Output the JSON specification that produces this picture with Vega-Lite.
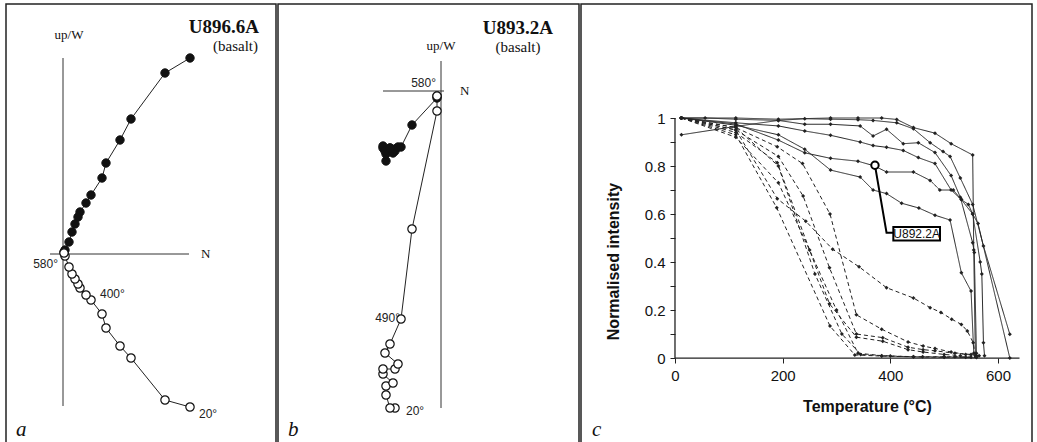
{
  "$schema": "https://vega.github.io/schema/vega-lite/v6.json",
  "padding": {"left": 5, "top": 3, "right": 0, "bottom": 0},
  "spacing": 0,
  "background": "white",
  "config": {"view": {"stroke": "#222", "strokeWidth": 1.5}, "concat": {"spacing": 0}},
  "datasets": {
    "zijA": [
      {"proj": "horizontal", "step": 1, "temp": 20, "x": 127, "y": 196},
      {"proj": "horizontal", "step": 2, "x": 102, "y": 181},
      {"proj": "horizontal", "step": 3, "x": 68, "y": 135},
      {"proj": "horizontal", "step": 4, "x": 57, "y": 114},
      {"proj": "horizontal", "step": 5, "x": 43, "y": 91},
      {"proj": "horizontal", "step": 6, "x": 39, "y": 76},
      {"proj": "horizontal", "step": 7, "x": 28, "y": 59},
      {"proj": "horizontal", "step": 8, "x": 23, "y": 51},
      {"proj": "horizontal", "step": 9, "x": 17, "y": 42},
      {"proj": "horizontal", "step": 10, "x": 15, "y": 37},
      {"proj": "horizontal", "step": 11, "x": 12, "y": 30},
      {"proj": "horizontal", "step": 12, "x": 9, "y": 22},
      {"proj": "horizontal", "step": 13, "x": 6, "y": 12},
      {"proj": "horizontal", "step": 14, "x": 2, "y": 4},
      {"proj": "horizontal", "step": 15, "x": 1, "y": 2},
      {"proj": "vertical", "step": 1, "x": 127, "y": -153},
      {"proj": "vertical", "step": 2, "x": 102, "y": -146},
      {"proj": "vertical", "step": 3, "x": 68, "y": -104},
      {"proj": "vertical", "step": 4, "x": 57, "y": -92},
      {"proj": "vertical", "step": 5, "x": 43, "y": -74},
      {"proj": "vertical", "step": 6, "x": 39, "y": -60},
      {"proj": "vertical", "step": 7, "x": 28, "y": -46},
      {"proj": "vertical", "step": 8, "x": 23, "y": -41},
      {"proj": "vertical", "step": 9, "x": 17, "y": -34},
      {"proj": "vertical", "step": 10, "x": 15, "y": -30},
      {"proj": "vertical", "step": 11, "x": 12, "y": -25},
      {"proj": "vertical", "step": 12, "x": 9, "y": -20},
      {"proj": "vertical", "step": 13, "x": 6, "y": -13},
      {"proj": "vertical", "step": 14, "x": 2, "y": -2},
      {"proj": "vertical", "step": 15, "x": 1, "y": 1}
    ],
    "zijB": [
      {"proj": "horizontal", "step": 1, "x": -46, "y": -60},
      {"proj": "horizontal", "step": 2, "x": -51, "y": -57},
      {"proj": "horizontal", "step": 3, "x": -55, "y": -70},
      {"proj": "horizontal", "step": 4, "x": -55, "y": -63},
      {"proj": "horizontal", "step": 5, "x": -48, "y": -62},
      {"proj": "horizontal", "step": 6, "x": -58, "y": -57},
      {"proj": "horizontal", "step": 7, "x": -58, "y": -55},
      {"proj": "horizontal", "step": 8, "x": -46, "y": -58},
      {"proj": "horizontal", "step": 9, "x": -43, "y": -56},
      {"proj": "horizontal", "step": 10, "x": -56, "y": -60},
      {"proj": "horizontal", "step": 11, "x": -51, "y": -57},
      {"proj": "horizontal", "step": 12, "x": -40, "y": -56},
      {"proj": "horizontal", "step": 13, "x": -29, "y": -34},
      {"proj": "horizontal", "step": 14, "x": -4, "y": -7},
      {"proj": "horizontal", "step": 15, "x": -4, "y": -5},
      {"proj": "vertical", "step": 1, "x": -46, "y": -317},
      {"proj": "vertical", "step": 2, "x": -51, "y": -317},
      {"proj": "vertical", "step": 3, "x": -55, "y": -304},
      {"proj": "vertical", "step": 4, "x": -55, "y": -295},
      {"proj": "vertical", "step": 5, "x": -48, "y": -292},
      {"proj": "vertical", "step": 6, "x": -58, "y": -283},
      {"proj": "vertical", "step": 7, "x": -58, "y": -278},
      {"proj": "vertical", "step": 8, "x": -46, "y": -278},
      {"proj": "vertical", "step": 9, "x": -43, "y": -273},
      {"proj": "vertical", "step": 10, "x": -56, "y": -262},
      {"proj": "vertical", "step": 11, "x": -51, "y": -253},
      {"proj": "vertical", "step": 12, "x": -40, "y": -228},
      {"proj": "vertical", "step": 13, "x": -29, "y": -138},
      {"proj": "vertical", "step": 14, "x": -4, "y": -20},
      {"proj": "vertical", "step": 15, "x": -4, "y": -5}
    ],
    "curves": [
      {"id": "S1", "kind": "solid", "t": 12, "v": 1.0},
      {"id": "S1", "kind": "solid", "t": 113, "v": 1.0},
      {"id": "S1", "kind": "solid", "t": 192, "v": 0.995},
      {"id": "S1", "kind": "solid", "t": 289, "v": 1.0},
      {"id": "S1", "kind": "solid", "t": 340, "v": 1.0},
      {"id": "S1", "kind": "solid", "t": 384, "v": 1.0},
      {"id": "S1", "kind": "solid", "t": 412, "v": 0.994},
      {"id": "S1", "kind": "solid", "t": 443, "v": 0.96},
      {"id": "S1", "kind": "solid", "t": 483, "v": 0.937},
      {"id": "S1", "kind": "solid", "t": 513, "v": 0.893},
      {"id": "S1", "kind": "solid", "t": 553, "v": 0.846},
      {"id": "S1", "kind": "solid", "t": 555, "v": 0.45},
      {"id": "S1", "kind": "solid", "t": 558, "v": 0.01},
      {"id": "S2", "kind": "solid", "t": 12, "v": 1.0},
      {"id": "S2", "kind": "solid", "t": 56, "v": 1.0},
      {"id": "S2", "kind": "solid", "t": 113, "v": 0.995},
      {"id": "S2", "kind": "solid", "t": 192, "v": 0.99},
      {"id": "S2", "kind": "solid", "t": 241, "v": 0.997},
      {"id": "S2", "kind": "solid", "t": 289, "v": 0.995},
      {"id": "S2", "kind": "solid", "t": 340, "v": 0.993},
      {"id": "S2", "kind": "solid", "t": 368, "v": 0.99},
      {"id": "S2", "kind": "solid", "t": 412, "v": 0.98},
      {"id": "S2", "kind": "solid", "t": 443, "v": 0.955},
      {"id": "S2", "kind": "solid", "t": 474, "v": 0.897},
      {"id": "S2", "kind": "solid", "t": 498, "v": 0.86},
      {"id": "S2", "kind": "solid", "t": 511, "v": 0.84},
      {"id": "S2", "kind": "solid", "t": 530, "v": 0.75},
      {"id": "S2", "kind": "solid", "t": 553, "v": 0.64},
      {"id": "S2", "kind": "solid", "t": 573, "v": 0.467},
      {"id": "S2", "kind": "solid", "t": 622, "v": 0.099},
      {"id": "S3", "kind": "solid", "t": 12, "v": 0.93},
      {"id": "S3", "kind": "solid", "t": 113, "v": 0.965},
      {"id": "S3", "kind": "solid", "t": 192, "v": 0.99},
      {"id": "S3", "kind": "solid", "t": 241, "v": 0.974},
      {"id": "S3", "kind": "solid", "t": 289, "v": 0.974},
      {"id": "S3", "kind": "solid", "t": 344, "v": 0.967},
      {"id": "S3", "kind": "solid", "t": 368, "v": 0.925},
      {"id": "S3", "kind": "solid", "t": 393, "v": 0.953},
      {"id": "S3", "kind": "solid", "t": 424, "v": 0.893},
      {"id": "S3", "kind": "solid", "t": 452, "v": 0.897},
      {"id": "S3", "kind": "solid", "t": 483, "v": 0.856},
      {"id": "S3", "kind": "solid", "t": 513, "v": 0.76},
      {"id": "S3", "kind": "solid", "t": 530, "v": 0.67},
      {"id": "S3", "kind": "solid", "t": 553, "v": 0.48},
      {"id": "S3", "kind": "solid", "t": 556, "v": 0.44},
      {"id": "S3", "kind": "solid", "t": 560, "v": 0.02},
      {"id": "S4", "kind": "solid", "t": 12, "v": 1.0},
      {"id": "S4", "kind": "solid", "t": 113, "v": 0.98},
      {"id": "S4", "kind": "solid", "t": 192, "v": 0.967},
      {"id": "S4", "kind": "solid", "t": 241, "v": 0.946},
      {"id": "S4", "kind": "solid", "t": 289, "v": 0.928},
      {"id": "S4", "kind": "solid", "t": 344, "v": 0.9},
      {"id": "S4", "kind": "solid", "t": 368, "v": 0.885},
      {"id": "S4", "kind": "solid", "t": 393, "v": 0.878},
      {"id": "S4", "kind": "solid", "t": 424, "v": 0.865},
      {"id": "S4", "kind": "solid", "t": 452, "v": 0.835},
      {"id": "S4", "kind": "solid", "t": 483, "v": 0.81},
      {"id": "S4", "kind": "solid", "t": 513, "v": 0.7},
      {"id": "S4", "kind": "solid", "t": 532, "v": 0.66},
      {"id": "S4", "kind": "solid", "t": 553, "v": 0.6},
      {"id": "S4", "kind": "solid", "t": 563, "v": 0.56},
      {"id": "S4", "kind": "solid", "t": 622, "v": 0.0},
      {"id": "S5", "kind": "solid", "t": 12, "v": 1.0},
      {"id": "S5", "kind": "solid", "t": 113, "v": 0.975},
      {"id": "S5", "kind": "solid", "t": 192, "v": 0.908},
      {"id": "S5", "kind": "solid", "t": 241, "v": 0.855},
      {"id": "S5", "kind": "solid", "t": 289, "v": 0.832},
      {"id": "S5", "kind": "solid", "t": 340, "v": 0.82},
      {"id": "S5", "kind": "solid", "t": 371, "v": 0.8},
      {"id": "S5", "kind": "solid", "t": 393, "v": 0.775},
      {"id": "S5", "kind": "solid", "t": 443, "v": 0.775},
      {"id": "S5", "kind": "solid", "t": 474, "v": 0.74},
      {"id": "S5", "kind": "solid", "t": 492, "v": 0.7},
      {"id": "S5", "kind": "solid", "t": 517, "v": 0.7},
      {"id": "S5", "kind": "solid", "t": 532, "v": 0.66},
      {"id": "S5", "kind": "solid", "t": 545, "v": 0.64},
      {"id": "S5", "kind": "solid", "t": 553, "v": 0.6},
      {"id": "S5", "kind": "solid", "t": 567, "v": 0.4},
      {"id": "S5", "kind": "solid", "t": 570, "v": 0.35},
      {"id": "S5", "kind": "solid", "t": 573, "v": 0.064},
      {"id": "S5", "kind": "solid", "t": 575, "v": 0.01},
      {"id": "S6", "kind": "solid", "t": 12, "v": 1.0},
      {"id": "S6", "kind": "solid", "t": 113, "v": 0.97},
      {"id": "S6", "kind": "solid", "t": 192, "v": 0.93},
      {"id": "S6", "kind": "solid", "t": 241, "v": 0.87},
      {"id": "S6", "kind": "solid", "t": 289, "v": 0.783},
      {"id": "S6", "kind": "solid", "t": 344, "v": 0.754},
      {"id": "S6", "kind": "solid", "t": 368, "v": 0.7},
      {"id": "S6", "kind": "solid", "t": 393, "v": 0.685},
      {"id": "S6", "kind": "solid", "t": 421, "v": 0.645},
      {"id": "S6", "kind": "solid", "t": 453, "v": 0.625},
      {"id": "S6", "kind": "solid", "t": 483, "v": 0.595},
      {"id": "S6", "kind": "solid", "t": 511, "v": 0.575},
      {"id": "S6", "kind": "solid", "t": 532, "v": 0.355},
      {"id": "S6", "kind": "solid", "t": 550, "v": 0.279},
      {"id": "S6", "kind": "solid", "t": 555, "v": 0.02},
      {"id": "D1", "kind": "dashed", "t": 12, "v": 1.0},
      {"id": "D1", "kind": "dashed", "t": 113, "v": 0.93},
      {"id": "D1", "kind": "dashed", "t": 189, "v": 0.626},
      {"id": "D1", "kind": "dashed", "t": 288, "v": 0.133},
      {"id": "D1", "kind": "dashed", "t": 334, "v": 0.013},
      {"id": "D1", "kind": "dashed", "t": 384, "v": 0.008},
      {"id": "D1", "kind": "dashed", "t": 443, "v": 0.005},
      {"id": "D1", "kind": "dashed", "t": 500, "v": 0.003},
      {"id": "D1", "kind": "dashed", "t": 540, "v": 0.003},
      {"id": "D1", "kind": "dashed", "t": 560, "v": 0.002},
      {"id": "D2", "kind": "dashed", "t": 12, "v": 1.0},
      {"id": "D2", "kind": "dashed", "t": 113, "v": 0.95},
      {"id": "D2", "kind": "dashed", "t": 190, "v": 0.664},
      {"id": "D2", "kind": "dashed", "t": 243, "v": 0.57},
      {"id": "D2", "kind": "dashed", "t": 293, "v": 0.453},
      {"id": "D2", "kind": "dashed", "t": 342, "v": 0.38},
      {"id": "D2", "kind": "dashed", "t": 393, "v": 0.293},
      {"id": "D2", "kind": "dashed", "t": 443, "v": 0.25},
      {"id": "D2", "kind": "dashed", "t": 474, "v": 0.21},
      {"id": "D2", "kind": "dashed", "t": 494, "v": 0.19},
      {"id": "D2", "kind": "dashed", "t": 514, "v": 0.162},
      {"id": "D2", "kind": "dashed", "t": 532, "v": 0.14},
      {"id": "D2", "kind": "dashed", "t": 543, "v": 0.113},
      {"id": "D2", "kind": "dashed", "t": 554, "v": 0.064},
      {"id": "D2", "kind": "dashed", "t": 558, "v": 0.01},
      {"id": "D3", "kind": "dashed", "t": 12, "v": 1.0},
      {"id": "D3", "kind": "dashed", "t": 113, "v": 0.96},
      {"id": "D3", "kind": "dashed", "t": 190, "v": 0.88},
      {"id": "D3", "kind": "dashed", "t": 237, "v": 0.81},
      {"id": "D3", "kind": "dashed", "t": 288, "v": 0.6},
      {"id": "D3", "kind": "dashed", "t": 337, "v": 0.18},
      {"id": "D3", "kind": "dashed", "t": 384, "v": 0.12},
      {"id": "D3", "kind": "dashed", "t": 433, "v": 0.067},
      {"id": "D3", "kind": "dashed", "t": 461, "v": 0.05},
      {"id": "D3", "kind": "dashed", "t": 483, "v": 0.04},
      {"id": "D3", "kind": "dashed", "t": 513, "v": 0.025},
      {"id": "D3", "kind": "dashed", "t": 540, "v": 0.015},
      {"id": "D3", "kind": "dashed", "t": 560, "v": 0.01},
      {"id": "D4", "kind": "dashed", "t": 12, "v": 1.0},
      {"id": "D4", "kind": "dashed", "t": 113, "v": 0.95},
      {"id": "D4", "kind": "dashed", "t": 192, "v": 0.84},
      {"id": "D4", "kind": "dashed", "t": 238, "v": 0.675},
      {"id": "D4", "kind": "dashed", "t": 287, "v": 0.376},
      {"id": "D4", "kind": "dashed", "t": 337, "v": 0.1},
      {"id": "D4", "kind": "dashed", "t": 386, "v": 0.085},
      {"id": "D4", "kind": "dashed", "t": 433, "v": 0.045},
      {"id": "D4", "kind": "dashed", "t": 461, "v": 0.035},
      {"id": "D4", "kind": "dashed", "t": 483, "v": 0.03},
      {"id": "D4", "kind": "dashed", "t": 520, "v": 0.02},
      {"id": "D4", "kind": "dashed", "t": 550, "v": 0.015},
      {"id": "D4", "kind": "dashed", "t": 565, "v": 0.01},
      {"id": "D5", "kind": "dashed", "t": 12, "v": 1.0},
      {"id": "D5", "kind": "dashed", "t": 113, "v": 0.94},
      {"id": "D5", "kind": "dashed", "t": 190, "v": 0.814},
      {"id": "D5", "kind": "dashed", "t": 287, "v": 0.226},
      {"id": "D5", "kind": "dashed", "t": 337, "v": 0.087},
      {"id": "D5", "kind": "dashed", "t": 386, "v": 0.07},
      {"id": "D5", "kind": "dashed", "t": 433, "v": 0.035},
      {"id": "D5", "kind": "dashed", "t": 461, "v": 0.025},
      {"id": "D5", "kind": "dashed", "t": 500, "v": 0.015},
      {"id": "D5", "kind": "dashed", "t": 530, "v": 0.01},
      {"id": "D6", "kind": "dashed", "t": 12, "v": 1.0},
      {"id": "D6", "kind": "dashed", "t": 113, "v": 0.92},
      {"id": "D6", "kind": "dashed", "t": 192, "v": 0.73},
      {"id": "D6", "kind": "dashed", "t": 250, "v": 0.45},
      {"id": "D6", "kind": "dashed", "t": 300, "v": 0.2},
      {"id": "D6", "kind": "dashed", "t": 340, "v": 0.02},
      {"id": "D6", "kind": "dashed", "t": 384, "v": 0.01},
      {"id": "D6", "kind": "dashed", "t": 443, "v": 0.005},
      {"id": "D6", "kind": "dashed", "t": 500, "v": 0.005},
      {"id": "D6", "kind": "dashed", "t": 550, "v": 0.003},
      {"id": "D7", "kind": "dashed", "t": 12, "v": 1.0},
      {"id": "D7", "kind": "dashed", "t": 113, "v": 0.96},
      {"id": "D7", "kind": "dashed", "t": 192, "v": 0.8},
      {"id": "D7", "kind": "dashed", "t": 260, "v": 0.35},
      {"id": "D7", "kind": "dashed", "t": 310, "v": 0.1},
      {"id": "D7", "kind": "dashed", "t": 345, "v": 0.015},
      {"id": "D7", "kind": "dashed", "t": 400, "v": 0.008},
      {"id": "D7", "kind": "dashed", "t": 460, "v": 0.005},
      {"id": "D7", "kind": "dashed", "t": 520, "v": 0.005},
      {"id": "D7", "kind": "dashed", "t": 560, "v": 0.004}
    ]
  },
  "hconcat": [
    {
      "width": 270,
      "height": 439,
      "encoding": {
        "x": {"field": "x", "type": "quantitative", "scale": {"domain": [-57, 213], "nice": false, "zero": false}, "axis": null},
        "y": {"field": "y", "type": "quantitative", "scale": {"domain": [-189, 250], "nice": false, "zero": false}, "axis": null}
      },
      "layer": [
        {"data": {"values": [{"x": 0, "x2": 0, "y": 196, "y2": -152}, {"x": -13, "x2": 126, "y": 0, "y2": 0}]},
         "mark": {"type": "rule", "color": "#333", "strokeWidth": 1},
         "encoding": {"x2": {"field": "x2"}, "y2": {"field": "y2"}}},
        {"data": {"name": "zijA"}, "transform": [{"filter": "datum.proj == 'horizontal'"}],
         "mark": {"type": "line", "color": "#222", "strokeWidth": 1},
         "encoding": {"order": {"field": "step", "type": "quantitative"}}},
        {"data": {"name": "zijA"}, "transform": [{"filter": "datum.proj == 'vertical'"}],
         "mark": {"type": "line", "color": "#222", "strokeWidth": 1},
         "encoding": {"order": {"field": "step", "type": "quantitative"}}},
        {"data": {"name": "zijA"}, "transform": [{"filter": "datum.proj == 'horizontal'"}],
         "mark": {"type": "point", "filled": true, "fill": "#111", "stroke": "#111", "strokeWidth": 1, "size": 70, "opacity": 1}},
        {"data": {"name": "zijA"}, "transform": [{"filter": "datum.proj == 'vertical'"}],
         "mark": {"type": "point", "filled": true, "fill": "white", "stroke": "#111", "strokeWidth": 1.2, "size": 70, "opacity": 1}},
        {"data": {"values": [{"x": 196, "y": 221, "label": "U896.6A"}]},
         "mark": {"type": "text", "font": "Liberation Serif", "fontSize": 19, "fontWeight": "bold", "align": "right", "baseline": "alphabetic", "color": "#111"},
         "encoding": {"text": {"field": "label"}}},
        {"data": {"values": [{"x": 195, "y": 208, "label": "(basalt)"}]},
         "mark": {"type": "text", "font": "Liberation Serif", "fontSize": 15, "align": "right", "baseline": "middle", "color": "#111"},
         "encoding": {"text": {"field": "label"}}},
        {"data": {"values": [{"x": 6, "y": 219, "label": "up/W"}]},
         "mark": {"type": "text", "font": "Liberation Serif", "fontSize": 13, "align": "center", "baseline": "middle", "color": "#111"},
         "encoding": {"text": {"field": "label"}}},
        {"data": {"values": [{"x": 138, "y": 0, "label": "N"}]},
         "mark": {"type": "text", "font": "Liberation Serif", "fontSize": 13, "align": "left", "baseline": "middle", "color": "#111"},
         "encoding": {"text": {"field": "label"}}},
        {"data": {"values": [{"x": -5, "y": -10, "label": "580°"}]},
         "mark": {"type": "text", "font": "Liberation Sans", "fontSize": 12, "align": "right", "baseline": "middle", "color": "#222"},
         "encoding": {"text": {"field": "label"}}},
        {"data": {"values": [{"x": 37, "y": -40, "label": "400°"}, {"x": 136, "y": -160, "label": "20°"}]},
         "mark": {"type": "text", "font": "Liberation Sans", "fontSize": 12, "align": "left", "baseline": "middle", "color": "#222"},
         "encoding": {"text": {"field": "label"}}},
        {"data": {"values": [{"x": -47, "y": -182, "label": "a"}]},
         "mark": {"type": "text", "font": "Liberation Serif", "fontSize": 21, "fontStyle": "italic", "align": "left", "baseline": "alphabetic", "color": "#111"},
         "encoding": {"text": {"field": "label"}}}
      ]
    },
    {
      "width": 301,
      "height": 439,
      "encoding": {
        "x": {"field": "x", "type": "quantitative", "scale": {"domain": [-163, 138], "nice": false, "zero": false}, "axis": null},
        "y": {"field": "y", "type": "quantitative", "scale": {"domain": [-352, 87], "nice": false, "zero": false}, "axis": null}
      },
      "layer": [
        {"data": {"values": [{"x": 0, "x2": 0, "y": 30, "y2": -317}, {"x": -58, "x2": 3, "y": 0, "y2": 0}]},
         "mark": {"type": "rule", "color": "#333", "strokeWidth": 1},
         "encoding": {"x2": {"field": "x2"}, "y2": {"field": "y2"}}},
        {"data": {"name": "zijB"}, "transform": [{"filter": "datum.proj == 'horizontal'"}],
         "mark": {"type": "line", "color": "#222", "strokeWidth": 1},
         "encoding": {"order": {"field": "step", "type": "quantitative"}}},
        {"data": {"name": "zijB"}, "transform": [{"filter": "datum.proj == 'vertical'"}],
         "mark": {"type": "line", "color": "#222", "strokeWidth": 1},
         "encoding": {"order": {"field": "step", "type": "quantitative"}}},
        {"data": {"name": "zijB"}, "transform": [{"filter": "datum.proj == 'horizontal'"}],
         "mark": {"type": "point", "filled": true, "fill": "#111", "stroke": "#111", "strokeWidth": 1, "size": 70, "opacity": 1}},
        {"data": {"name": "zijB"}, "transform": [{"filter": "datum.proj == 'vertical'"}],
         "mark": {"type": "point", "filled": true, "fill": "white", "stroke": "#111", "strokeWidth": 1.2, "size": 70, "opacity": 1}},
        {"data": {"values": [{"x": 112, "y": 57, "label": "U893.2A"}]},
         "mark": {"type": "text", "font": "Liberation Serif", "fontSize": 19, "fontWeight": "bold", "align": "right", "baseline": "alphabetic", "color": "#111"},
         "encoding": {"text": {"field": "label"}}},
        {"data": {"values": [{"x": 77, "y": 44, "label": "(basalt)"}]},
         "mark": {"type": "text", "font": "Liberation Serif", "fontSize": 15, "align": "center", "baseline": "middle", "color": "#111"},
         "encoding": {"text": {"field": "label"}}},
        {"data": {"values": [{"x": 0, "y": 45, "label": "up/W"}]},
         "mark": {"type": "text", "font": "Liberation Serif", "fontSize": 13, "align": "center", "baseline": "middle", "color": "#111"},
         "encoding": {"text": {"field": "label"}}},
        {"data": {"values": [{"x": 19, "y": 0, "label": "N"}]},
         "mark": {"type": "text", "font": "Liberation Serif", "fontSize": 13, "align": "left", "baseline": "middle", "color": "#111"},
         "encoding": {"text": {"field": "label"}}},
        {"data": {"values": [{"x": -5, "y": 8, "label": "580°"}, {"x": -41, "y": -227, "label": "490°"}]},
         "mark": {"type": "text", "font": "Liberation Sans", "fontSize": 12, "align": "right", "baseline": "middle", "color": "#222"},
         "encoding": {"text": {"field": "label"}}},
        {"data": {"values": [{"x": -35, "y": -320, "label": "20°"}]},
         "mark": {"type": "text", "font": "Liberation Sans", "fontSize": 12, "align": "left", "baseline": "middle", "color": "#222"},
         "encoding": {"text": {"field": "label"}}},
        {"data": {"values": [{"x": -153, "y": -345, "label": "b"}]},
         "mark": {"type": "text", "font": "Liberation Serif", "fontSize": 21, "fontStyle": "italic", "align": "left", "baseline": "alphabetic", "color": "#111"},
         "encoding": {"text": {"field": "label"}}}
      ]
    },
    {
      "width": 451,
      "height": 439,
      "encoding": {
        "x": {"field": "t", "type": "quantitative",
              "scale": {"domain": [-174.6, 663.2], "nice": false, "zero": false},
              "axis": {"orient": "bottom", "offset": -85, "values": [0, 200, 400, 600], "domain": false, "grid": false,
                       "tickSize": 5, "tickColor": "#222", "tickWidth": 1,
                       "labelFont": "Liberation Sans", "labelFontSize": 15, "labelColor": "#111", "labelPadding": 5,
                       "labelFlush": false, "labelOverlap": false, "labelBound": false,
                       "title": "Temperature (°C)", "titleFont": "Liberation Sans", "titleFontSize": 16, "titleFontWeight": "bold",
                       "titleColor": "#111", "titleX": 286, "titleY": 48, "titleBaseline": "middle", "titleAlign": "center"}},
        "y": {"field": "v", "type": "quantitative",
              "scale": {"domain": [-0.354, 1.475], "nice": false, "zero": false},
              "axis": {"orient": "left", "offset": -94, "values": [0, 0.1, 0.2, 0.3, 0.4, 0.5, 0.6, 0.7, 0.8, 0.9, 1],
                       "domain": false, "grid": false, "tickSize": 5, "tickColor": "#222", "tickWidth": 1,
                       "labelExpr": "round(datum.value * 10) % 2 == 0 ? '' + datum.value : ''",
                       "labelFont": "Liberation Sans", "labelFontSize": 15, "labelColor": "#111", "labelPadding": 5,
                       "labelOverlap": false, "labelBound": false, "labelFlush": false,
                       "title": "Normalised intensity", "titleFont": "Liberation Sans", "titleFontSize": 16, "titleFontWeight": "bold",
                       "titleColor": "#111", "titleX": -62, "titleY": 257, "titleAngle": -90, "titleBaseline": "middle", "titleAlign": "center"}}
      },
      "layer": [
        {"data": {"values": [{"t": 0, "t2": 640, "v": 0, "v2": 0}, {"t": 0, "t2": 0, "v": 0, "v2": 1}]},
         "mark": {"type": "rule", "color": "#222", "strokeWidth": 1.3},
         "encoding": {"x2": {"field": "t2"}, "y2": {"field": "v2"}}},
        {"data": {"name": "curves"},
         "mark": {"type": "line", "color": "#222", "strokeWidth": 1},
         "encoding": {
           "detail": {"field": "id", "type": "nominal"},
           "strokeDash": {"field": "kind", "type": "nominal", "scale": {"domain": ["solid", "dashed"], "range": [[1, 0], [4, 3]]}, "legend": null}
         }},
        {"data": {"name": "curves"},
         "mark": {"type": "point", "shape": "diamond", "filled": true, "color": "#222", "size": 16, "opacity": 1}},
        {"data": {"values": [{"t": 371.5, "v": 0.803, "k": 1}, {"t": 393, "v": 0.522, "k": 2}, {"t": 405.6, "v": 0.522, "k": 3}]},
         "mark": {"type": "line", "color": "#000", "strokeWidth": 2},
         "encoding": {"order": {"field": "k", "type": "quantitative"}}},
        {"data": {"values": [{"t": 371.5, "v": 0.803}]},
         "mark": {"type": "point", "shape": "circle", "filled": true, "fill": "white", "stroke": "#000", "strokeWidth": 2, "size": 55, "opacity": 1}},
        {"data": {"values": [{"t": 405.6, "t2": 492.3, "v": 0.546, "v2": 0.49}]},
         "mark": {"type": "rect", "fill": "white", "stroke": "#000", "strokeWidth": 2},
         "encoding": {"x2": {"field": "t2"}, "y2": {"field": "v2"}}},
        {"data": {"values": [{"t": 449, "v": 0.518, "label": "U892.2A"}]},
         "mark": {"type": "text", "font": "Liberation Sans", "fontSize": 12, "align": "center", "baseline": "middle", "color": "#111"},
         "encoding": {"text": {"field": "label"}}},
        {"data": {"values": [{"t": -154, "v": -0.325, "label": "c"}]},
         "mark": {"type": "text", "font": "Liberation Serif", "fontSize": 21, "fontStyle": "italic", "align": "left", "baseline": "alphabetic", "color": "#111"},
         "encoding": {"text": {"field": "label"}}}
      ]
    }
  ]
}
